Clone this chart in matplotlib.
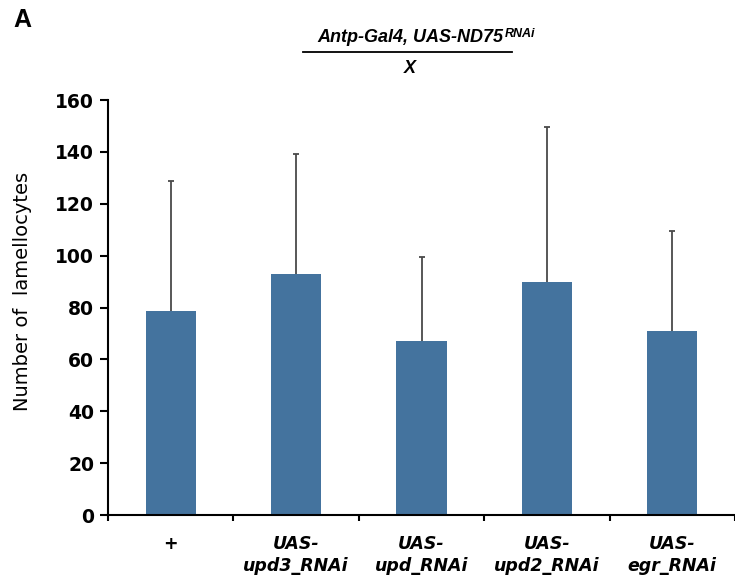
import matplotlib.pyplot as plt
import numpy as np

# data
groups = ["+", "UAS-\nupd3_RNAi", "UAS-\nupd_RNAi", "UAS-\nupd2_RNAi", "UAS-\negr_RNAi"]
means = [78.5, 92.8, 67.0, 90.0, 71.0]
errs = [50.3, 46.5, 32.4, 59.8, 38.5]
yticks = [0, 20, 40, 60, 80, 100, 120, 140, 160]

bar_color = "#44739e"

fig = plt.figure(figsize=(7.35, 5.82), dpi=100)
ax = fig.add_axes([0.147, 0.115, 0.853, 0.713])

x = np.arange(len(groups))
ax.bar(x, means, width=0.4, color=bar_color, zorder=2)
eb = ax.errorbar(x, means, yerr=[np.zeros(len(errs)), errs], fmt="none",
                 ecolor="#4a4a4a", elinewidth=1.3, capsize=2.5, capthick=1.3, zorder=3)
# only the upper cap is drawn
eb[1][0].set_visible(False)

ax.set_ylim(0, 160)
ax.set_xlim(-0.5, 4.44)
ax.set_yticks(yticks)
ax.set_yticklabels([str(v) for v in yticks], fontsize=13.5, fontweight="bold")
ax.tick_params(axis="y", direction="out", length=6, width=1.5, pad=4)

ax.set_xticks(x)
ax.set_xticklabels(groups, fontsize=12.5, fontweight="bold", style="italic",
                   linespacing=1.3)
ax.tick_params(axis="x", which="major", length=0, pad=14)
ax.set_xticks(np.arange(-0.5, 4.6, 1.0), minor=True)
ax.tick_params(axis="x", which="minor", direction="out", length=4, width=1.5)

for s in ["top", "right"]:
    ax.spines[s].set_visible(False)
ax.spines["left"].set_linewidth(1.5)
ax.spines["bottom"].set_linewidth(1.5)

ax.set_ylabel("Number of  lamellocytes", fontsize=14)
ax.yaxis.set_label_coords(-0.122, 0.54)

# header
fig.text(0.018, 0.965, "A", fontsize=18, fontweight="bold",
         family="Liberation Sans", ha="left", va="center")
t = fig.text(0.432, 0.928, "Antp-Gal4, UAS-ND75", fontsize=13, fontweight="bold",
             style="italic", family="Liberation Sans", ha="left", va="baseline")
ax.annotate("RNAi", xy=(1, 1), xycoords=t, xytext=(1, 1), textcoords="offset points",
            fontsize=9, fontweight="bold", style="italic", family="Liberation Sans",
            ha="left", va="top", annotation_clip=False)
fig.add_artist(plt.Line2D([0.412, 0.697], [0.911, 0.911], color="black", lw=1.3))
fig.text(0.558, 0.883, "X", fontsize=13, fontweight="bold", style="italic",
         family="Liberation Sans", ha="center", va="center")

fig.savefig("out.png", dpi=100)
